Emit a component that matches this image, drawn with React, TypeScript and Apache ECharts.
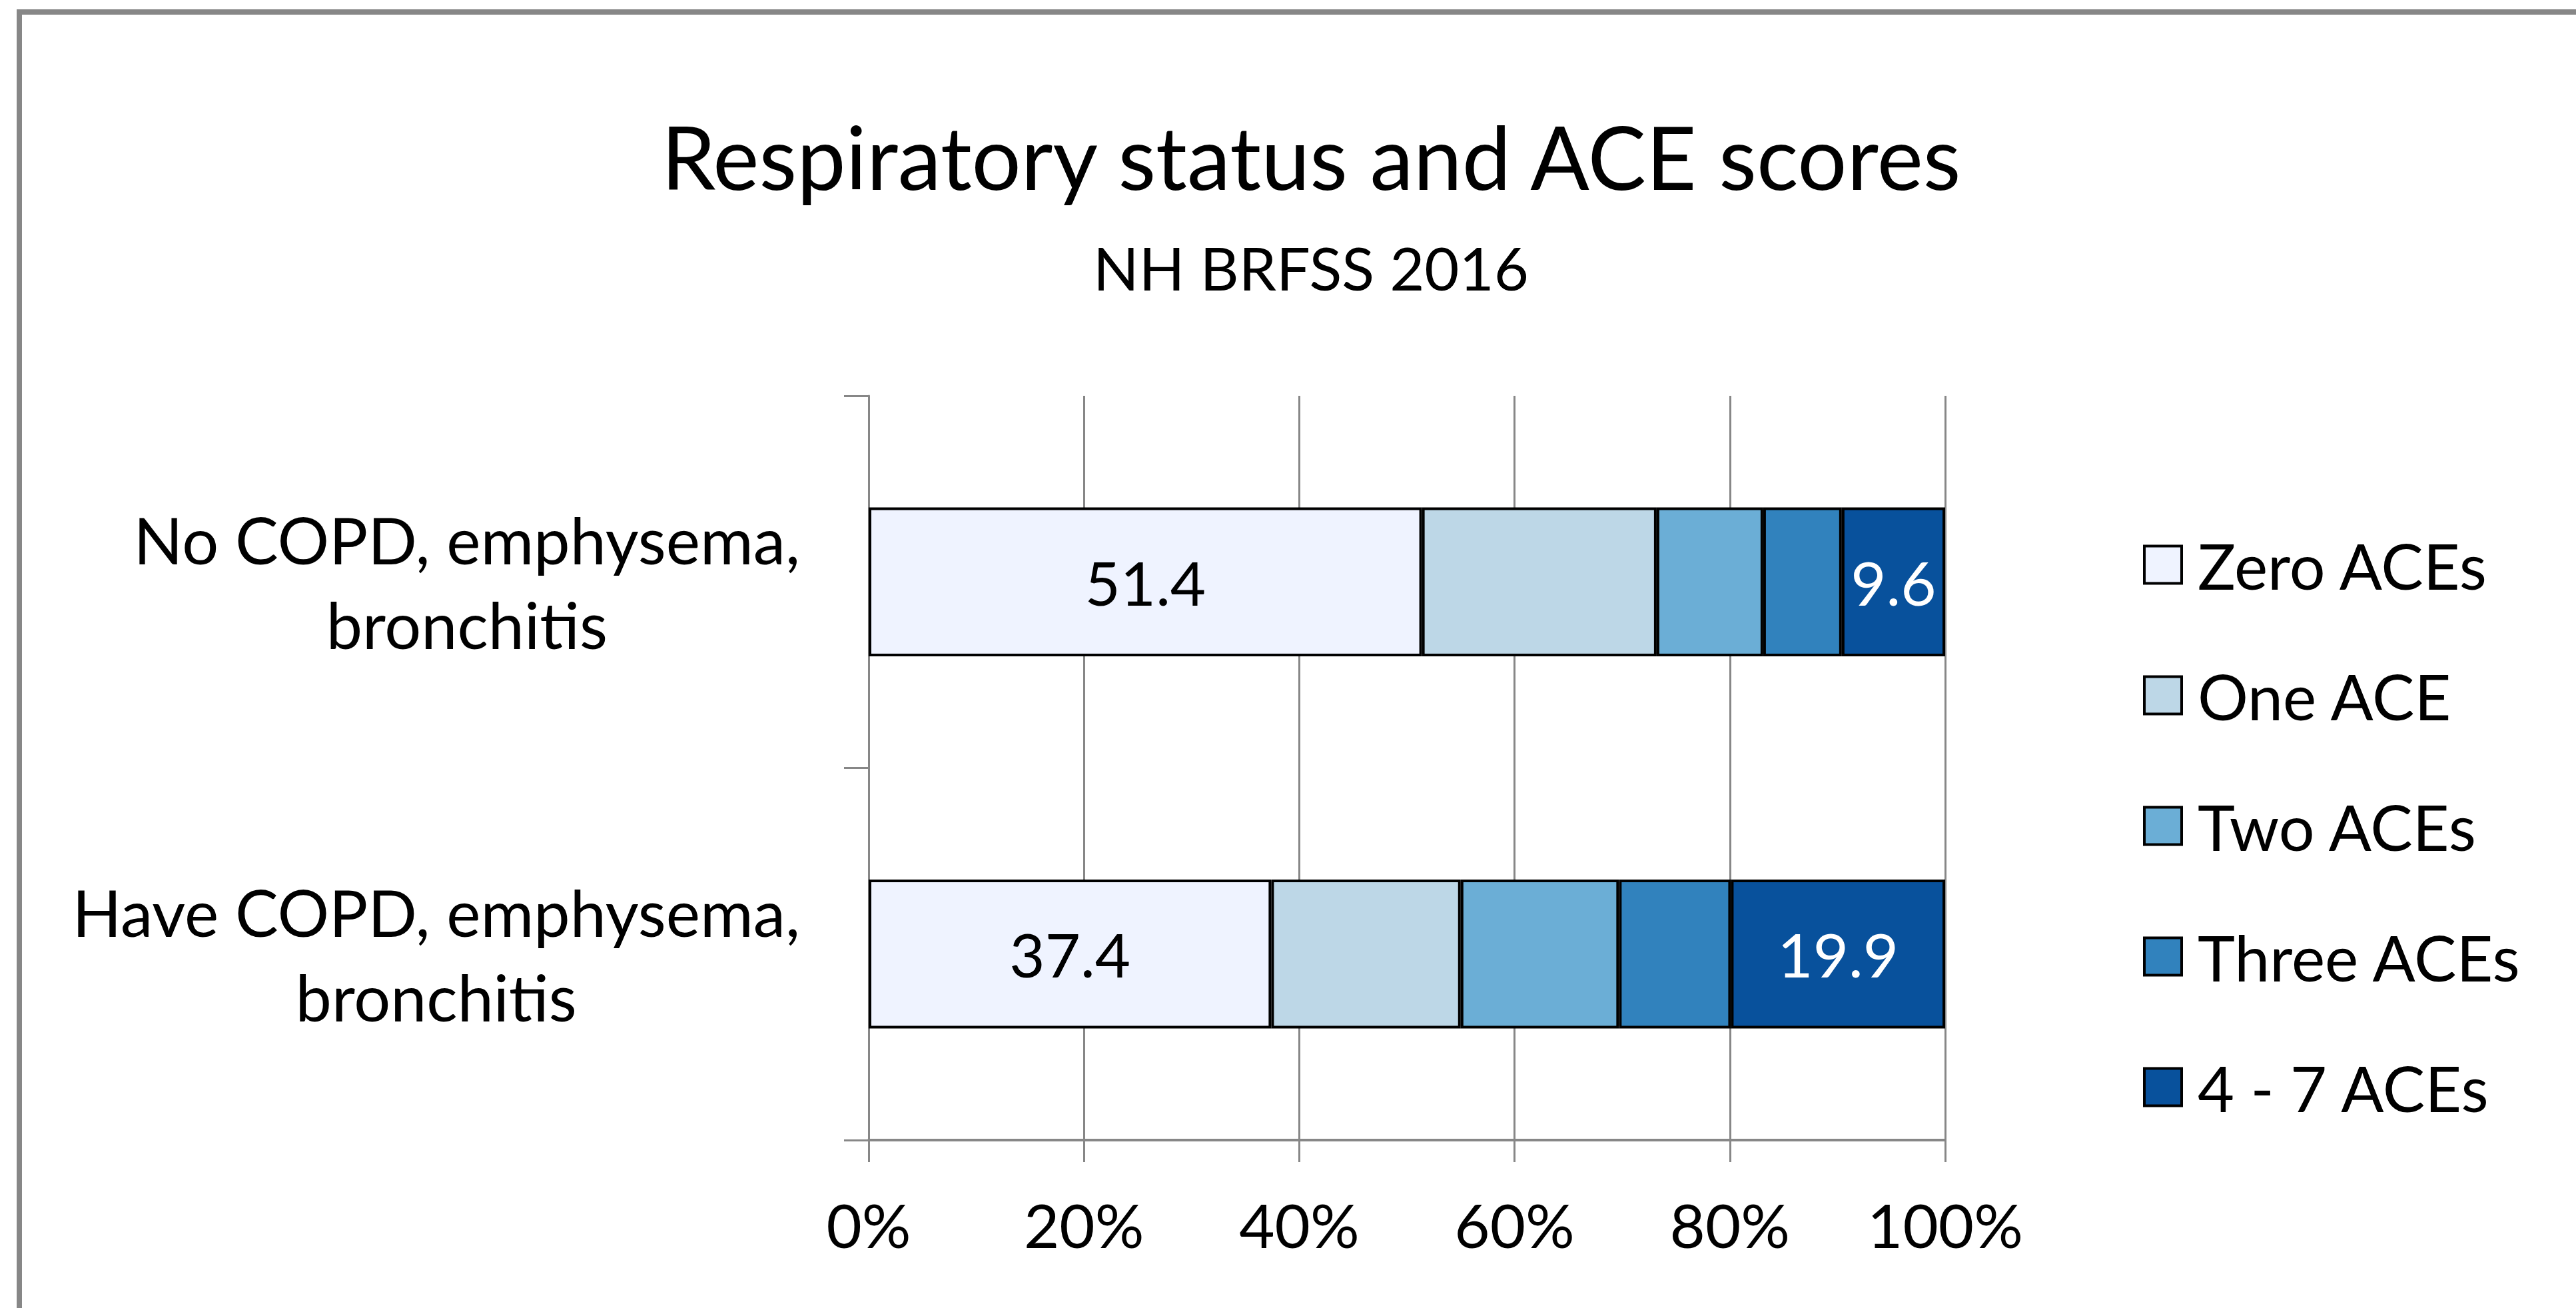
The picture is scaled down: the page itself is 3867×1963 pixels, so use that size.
import React, { useEffect, useRef } from "react";
import * as echarts from "echarts";

const categories = [
  "No COPD, emphysema, bronchitis",
  "Have COPD, emphysema, bronchitis",
];
const seriesNames = ["Zero ACEs", "One ACE", "Two ACEs", "Three ACEs", "4 - 7 ACEs"];
const zeroAces = [51.4, 37.4];
const oneAce = [21.8, 17.6];
const twoAces = [9.9, 14.7];
const threeAces = [7.3, 10.4];
const fourToSevenAces = [9.6, 19.9];
const seriesValues = [zeroAces, oneAce, twoAces, threeAces, fourToSevenAces];
const labelledSeries = [true, false, false, false, true];
const colors = ["#eff3ff", "#bdd7e7", "#6baed6", "#3182bd", "#08519c"];
const labelColors = ["#000000", "#000000", "#000000", "#ffffff", "#ffffff"];
const titleText = "Respiratory status and ACE scores";
const subtitleText = "NH BRFSS 2016";

const FONT = "Lato";
const GRAY = "#878787";

export default function App() {
  const ref = useRef<HTMLDivElement>(null);
  useEffect(() => {
    document.body.style.margin = "0";
    const chart = echarts.init(ref.current!, null, { renderer: "svg" });
    const series = seriesNames.map((name, i) => ({
      name,
      type: "bar",
      stack: "total",
      data: seriesValues[i],
      barCategoryGap: "60%",
      itemStyle: { color: colors[i], borderColor: "#000", borderWidth: 4 },
      label: {
        show: labelledSeries[i],
        position: "inside",
        color: labelColors[i],
        fontFamily: FONT,
        fontSize: 92,
        formatter: (p: any) => Number(p.value).toFixed(1),
      },
      emphasis: { disabled: true },
    }));
    chart.setOption({
      animation: false,
      backgroundColor: "#ffffff",
      textStyle: { fontFamily: FONT },
      title: {
        text: titleText,
        subtext: subtitleText,
        left: 1963,
        top: 164,
        textAlign: "center",
        itemGap: 56,
        textStyle: { fontFamily: FONT, fontSize: 131, fontWeight: "normal", color: "#000", lineHeight: 131 },
        subtextStyle: { fontFamily: FONT, fontSize: 90, color: "#000", lineHeight: 90 },
      },
      graphic: [
        {
          type: "rect",
          silent: true,
          z: -10,
          shape: { x: 29, y: 18, width: 4000, height: 2200 },
          style: { fill: "none", stroke: GRAY, lineWidth: 8 },
        },
      ],
      legend: {
        orient: "vertical",
        left: 3212,
        top: 795,
        icon: "rect",
        itemWidth: 56,
        itemHeight: 56,
        itemGap: 101,
        data: seriesNames,
        itemStyle: { borderColor: "#000", borderWidth: 4 },
        textStyle: { fontFamily: FONT, fontSize: 95, color: "#000", lineHeight: 56, padding: [0, 0, 0, 19] },
      },
      grid: { left: 1304, right: 947, top: 594, bottom: 252, containLabel: false },
      xAxis: {
        type: "value",
        min: 0,
        max: 100,
        interval: 20,
        axisLine: { show: true, lineStyle: { color: GRAY, width: 4 } },
        axisTick: { show: true, length: 33, lineStyle: { color: GRAY, width: 3 } },
        splitLine: { show: true, lineStyle: { color: GRAY, width: 3 } },
        axisLabel: {
          formatter: "{value}%",
          fontFamily: FONT,
          fontSize: 92,
          color: "#000",
          margin: 80,
          lineHeight: 92,
        },
      },
      yAxis: {
        type: "category",
        inverse: true,
        data: categories,
        axisLine: { show: true, lineStyle: { color: GRAY, width: 3 } },
        axisTick: { show: true, length: 37, lineStyle: { color: GRAY, width: 3 } },
        axisLabel: {
          align: "right",
          margin: 103,
          formatter: (v: string) =>
            v
              .replace(/, (\S+)$/, ",\n$1")
              .split("\n")
              .map((l) => `{c|${l}}`)
              .join("\n"),
          rich: {
            c: { align: "center", fontFamily: FONT, fontSize: 97, lineHeight: 127, color: "#000" },
          },
        },
      },
      series,
    });
    return () => chart.dispose();
  }, []);
  return (
    <div
      ref={ref}
      style={{ position: "fixed", left: 0, top: 0, width: 3867, height: 1963 }}
    />
  );
}
